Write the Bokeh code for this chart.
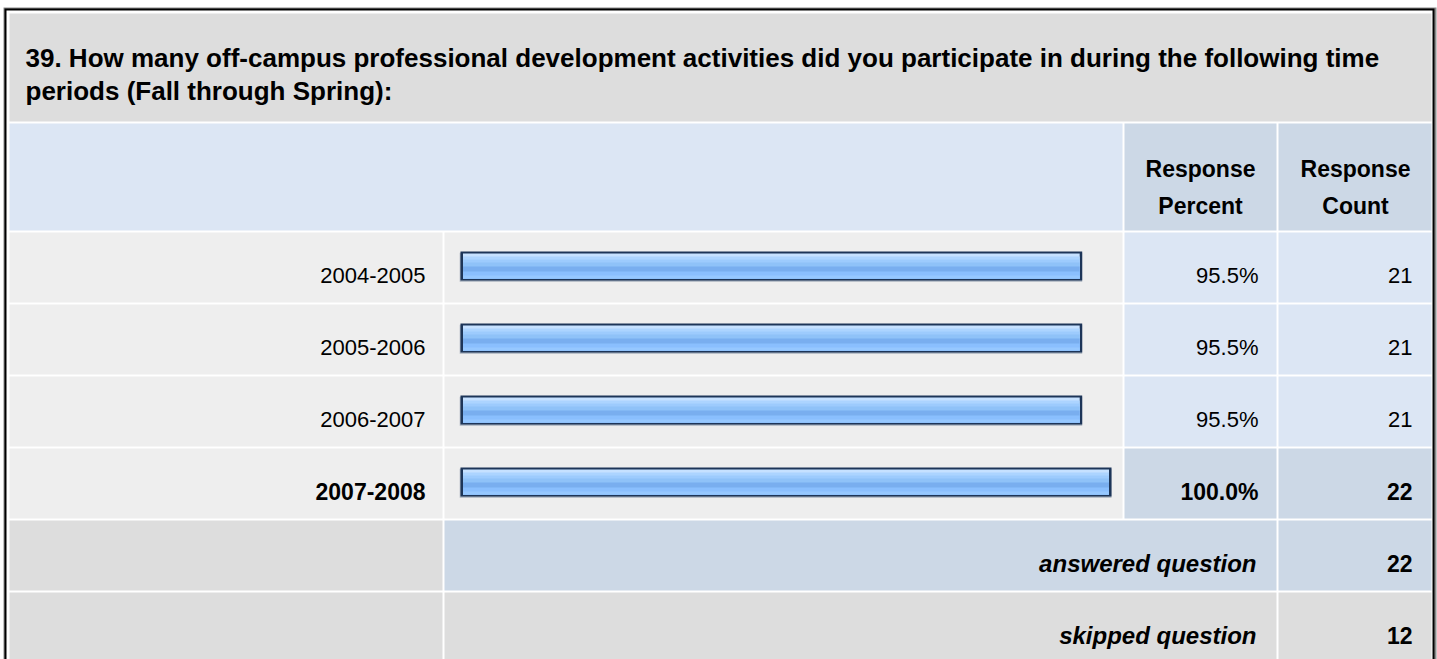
from bokeh.plotting import figure
from bokeh.models import Range1d
from bokeh.embed import file_html
from bokeh.resources import INLINE
from bokeh.core.properties import value

# ---------------- data ----------------
question_lines = [
    "39. How many off-campus professional development activities did you participate in during the following time",
    "periods (Fall through Spring):",
]
categories = ["2004-2005", "2005-2006", "2006-2007", "2007-2008"]
percents = [95.5, 95.5, 95.5, 100.0]
counts = [21, 21, 21, 22]
header_percent = ["Response", "Percent"]
header_count = ["Response", "Count"]
summary_labels = ["answered question", "skipped question"]
summary_counts = [22, 12]

# ---------------- layout (reference pixel coordinates) ----------------
FONT = value("Liberation Sans")
W, H = 1437, 659
X0, X1 = 0, 1437
Y0, Y1 = 0, 659

p = figure(width=W, height=H, output_backend="svg", toolbar_location=None,
           x_range=Range1d(X0, X1), y_range=Range1d(Y1, Y0),
           x_axis_location=None, y_axis_location=None, min_border=0, tools="")
p.grid.visible = False
p.outline_line_color = None
p.background_fill_color = "white"
p.border_fill_color = "white"

# percent scale for bars: 0% at x=460, 100% at x=1111
BAR0, BAR100 = 460, 1111
ppp = (BAR100 - BAR0) / 100.0
p0 = -(BAR0 - X0) / ppp
p1 = p0 + (X1 - X0) / ppp
p.extra_x_ranges = {"pct": Range1d(p0, p1)}

# outer frame
p.quad(left=[3], right=[1436], top=[7], bottom=[700], fill_color="#8a8a8a", line_color=None)
p.quad(left=[4], right=[1434], top=[8], bottom=[700], fill_color="#000000", line_color=None)
p.quad(left=[6], right=[1432], top=[10], bottom=[700], fill_color="#ffffff", line_color=None)

C_TITLE = "#dddddd"
C_HEAD = "#dce6f4"
C_HEAD2 = "#ccd8e6"
C_ROW = "#eeeeee"
C_VAL = "#dce6f4"
C_VALMAX = "#ccd8e6"
C_SUM = "#ccd8e6"

cx = [(9, 442), (444, 1122), (1124, 1276), (1278, 1431)]
row_tops = [232 + 72 * i for i in range(len(categories) + 2)]
RH = 70

L, R, T, B, C = [], [], [], [], []
def cell(l, r, t, b, c):
    L.append(l); R.append(r); T.append(t); B.append(b); C.append(c)

cell(9, 1431, 13, 121, C_TITLE)
cell(9, 1122, 123, 230, C_HEAD)
cell(1124, 1276, 123, 230, C_HEAD2)
cell(1278, 1431, 123, 230, C_HEAD2)

mx = max(percents)
for i, v in enumerate(percents):
    t = row_tops[i]
    vc = C_VALMAX if v == mx else C_VAL
    cell(*cx[0], t, t + RH, C_ROW)
    cell(*cx[1], t, t + RH, C_ROW)
    cell(*cx[2], t, t + RH, vc)
    cell(*cx[3], t, t + RH, vc)

ta = row_tops[len(categories)]
cell(*cx[0], ta, ta + RH, C_TITLE)
cell(cx[1][0], cx[2][1], ta, ta + RH, C_SUM)
cell(*cx[3], ta, ta + RH, C_SUM)
ts = row_tops[len(categories) + 1]
cell(*cx[0], ts, 700, C_TITLE)
cell(cx[1][0], cx[2][1], ts, 700, C_TITLE)
cell(*cx[3], ts, 700, C_TITLE)

p.quad(left=L, right=R, top=T, bottom=B, fill_color=C, line_color=None)

# ---------------- bars ----------------
BH = 29
bar_top = [t + 19 for t in row_tops[:len(categories)]]
inset = 2.5 / ppp
# shadow (1px below / left)
p.hbar(y=[t + BH / 2.0 + 1.3 for t in bar_top], left=-0.12, right=percents, height=BH,
       fill_color="#a9b2be", line_color=None, x_range_name="pct")
# border
p.hbar(y=[t + BH / 2.0 for t in bar_top], left=0, right=percents, height=BH,
       fill_color="#1d3558", line_color=None, x_range_name="pct")
# gradient: each stripe runs from its start to the inner bottom; later ones cover earlier
stripes = [(2, "#c6e1ff"), (5, "#acd4ff"), (8, "#9dcbfd"), (11, "#8fc2f8"),
           (15, "#79aeef"), (20, "#8abffe"), (24, "#96c8ff")]
inner_bottom = BH - 2
for a, col in stripes:
    hgt = inner_bottom - a
    ys = [t + a + hgt / 2.0 for t in bar_top]
    p.hbar(y=ys, left=inset, right=[v - inset for v in percents], height=hgt,
           fill_color=col, line_color=None, x_range_name="pct")

# ---------------- texts ----------------
def txt(x, y, s, size="22px", style="normal", align="left"):
    p.text(x=[x], y=[y], text=[s], text_font=FONT, text_font_size=size,
           text_font_style=style, text_align=align, text_baseline="alphabetic",
           text_color="#000000")

txt(25, 57, question_lines[0], size="26px", style="bold")
txt(25, 90, question_lines[1], size="26px", style="bold")

txt(1200, 168, header_percent[0], size="23px", style="bold", align="center")
txt(1200, 205, header_percent[1], size="23px", style="bold", align="center")
txt(1355, 168, header_count[0], size="23px", style="bold", align="center")
txt(1355, 205, header_count[1], size="23px", style="bold", align="center")

for i, (cat, v, n) in enumerate(zip(categories, percents, counts)):
    yb = row_tops[i] + 43
    st = "bold" if v == mx else "normal"
    sz = "23px" if v == mx else "22px"
    txt(425, yb, cat, size=sz, style=st, align="right")
    txt(1258, yb, f"{v:.1f}%", size=sz, style=st, align="right")
    txt(1412, yb, str(n), size=sz, style=st, align="right")

for j, (lab, n) in enumerate(zip(summary_labels, summary_counts)):
    yb = row_tops[len(categories) + j] + 43
    txt(1256, yb, lab, size="24px", style="bold italic", align="right")
    txt(1412, yb, str(n), size="23px", style="bold", align="right")

open("out.html", "w").write(file_html(p, INLINE))
